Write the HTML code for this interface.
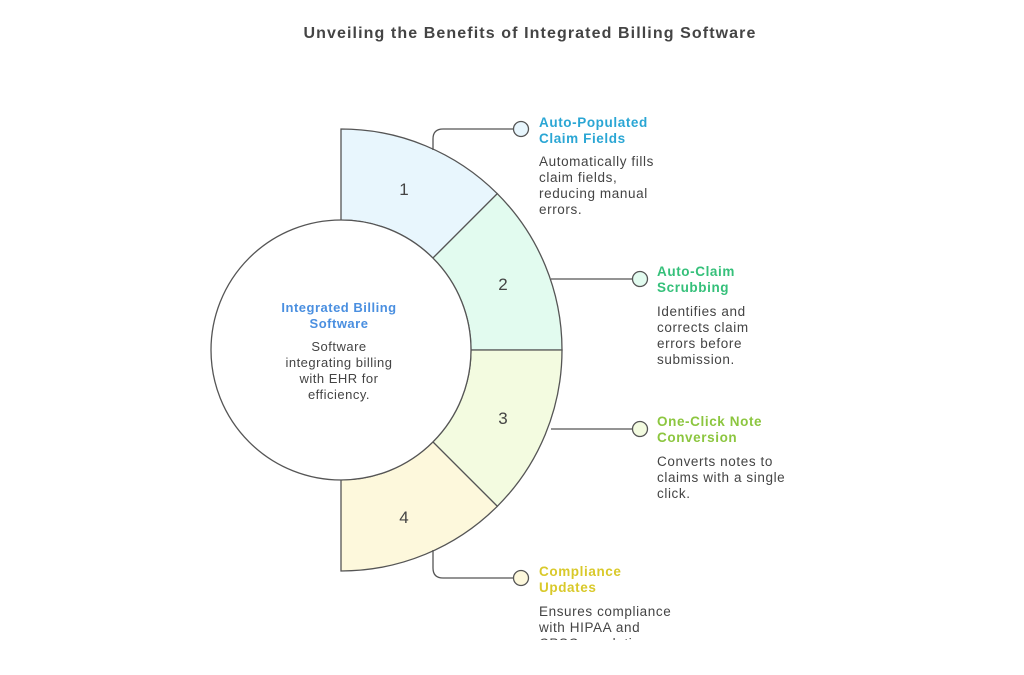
<!DOCTYPE html>
<html><head><meta charset="utf-8"><style>
html,body{margin:0;padding:0;background:#fff;}
body{width:1024px;height:675px;overflow:hidden;position:relative;font-family:"Liberation Sans",sans-serif;}
svg{position:absolute;left:0;top:0;}
.t{font-family:"Liberation Sans",sans-serif;}
</style></head><body>
<svg width="1024" height="675" viewBox="0 0 1024 675">
<text x="530" y="38" text-anchor="middle" class="t" font-size="16" font-weight="bold" fill="#444" letter-spacing="1.1">Unveiling the Benefits of Integrated Billing Software</text>
<g stroke="#555" stroke-width="1.3">
<path d="M341 129 A221 221 0 0 1 497.3 193.7 L432.9 258.1 A130 130 0 0 0 341 220 Z" fill="#e8f6fd"/>
<path d="M497.3 193.7 A221 221 0 0 1 562 350 L471 350 A130 130 0 0 0 432.9 258.1 Z" fill="#e2fbef"/>
<path d="M562 350 A221 221 0 0 1 497.3 506.3 L432.9 441.9 A130 130 0 0 0 471 350 Z" fill="#f3fbe0"/>
<path d="M497.3 506.3 A221 221 0 0 1 341 571 L341 480 A130 130 0 0 0 432.9 441.9 Z" fill="#fdf8dc"/>
<circle cx="341" cy="350" r="130" fill="#fff"/>
<g fill="none">
<path d="M433 150 L433 139 Q433 129 443 129 L514 129"/>
<path d="M551 279 L632 279"/>
<path d="M551 429 L632 429"/>
<path d="M433 550 L433 568 Q433 578 443 578 L514 578"/>
</g>
<circle cx="521" cy="129" r="7.5" fill="#e8f6fd"/>
<circle cx="640" cy="279" r="7.5" fill="#e2fbef"/>
<circle cx="640" cy="429" r="7.5" fill="#f3fbe0"/>
<circle cx="521" cy="578" r="7.5" fill="#fdf8dc"/>
</g>
<g class="t" font-size="17" fill="#444" text-anchor="middle">
<text x="404" y="195">1</text><text x="503" y="290">2</text><text x="503" y="424">3</text><text x="404" y="523">4</text>
</g>
<g class="t" font-size="13" text-anchor="middle" letter-spacing="0.5">
<text x="339" y="312" font-weight="bold" fill="#4a8fe0">Integrated Billing</text>
<text x="339" y="328" font-weight="bold" fill="#4a8fe0">Software</text>
<g fill="#444"><text x="339" y="351">Software</text><text x="339" y="367">integrating billing</text><text x="339" y="383">with EHR for</text><text x="339" y="399">efficiency.</text></g>
</g>
<g class="t" font-size="13.5" letter-spacing="0.6">
<text x="539" y="127" font-weight="bold" fill="#2aa6d4">Auto-Populated</text>
<text x="539" y="143" font-weight="bold" fill="#2aa6d4">Claim Fields</text>
<g fill="#444"><text x="539" y="166">Automatically fills</text><text x="539" y="182">claim fields,</text><text x="539" y="198">reducing manual</text><text x="539" y="214">errors.</text></g>
<text x="657" y="276" font-weight="bold" fill="#35c07a">Auto-Claim</text>
<text x="657" y="292" font-weight="bold" fill="#35c07a">Scrubbing</text>
<g fill="#444"><text x="657" y="316">Identifies and</text><text x="657" y="332">corrects claim</text><text x="657" y="348">errors before</text><text x="657" y="364">submission.</text></g>
<text x="657" y="426" font-weight="bold" fill="#8cc63f">One-Click Note</text>
<text x="657" y="442" font-weight="bold" fill="#8cc63f">Conversion</text>
<g fill="#444"><text x="657" y="466">Converts notes to</text><text x="657" y="482">claims with a single</text><text x="657" y="498">click.</text></g>
<text x="539" y="576" font-weight="bold" fill="#d9c92a">Compliance</text>
<text x="539" y="592" font-weight="bold" fill="#d9c92a">Updates</text>
<g fill="#444"><text x="539" y="616">Ensures compliance</text><text x="539" y="632">with HIPAA and</text><text x="539" y="648">CPSC regulations.</text></g>
</g>
<rect x="0" y="640" width="1024" height="35" fill="#fff"/>
</svg>
</body></html>
